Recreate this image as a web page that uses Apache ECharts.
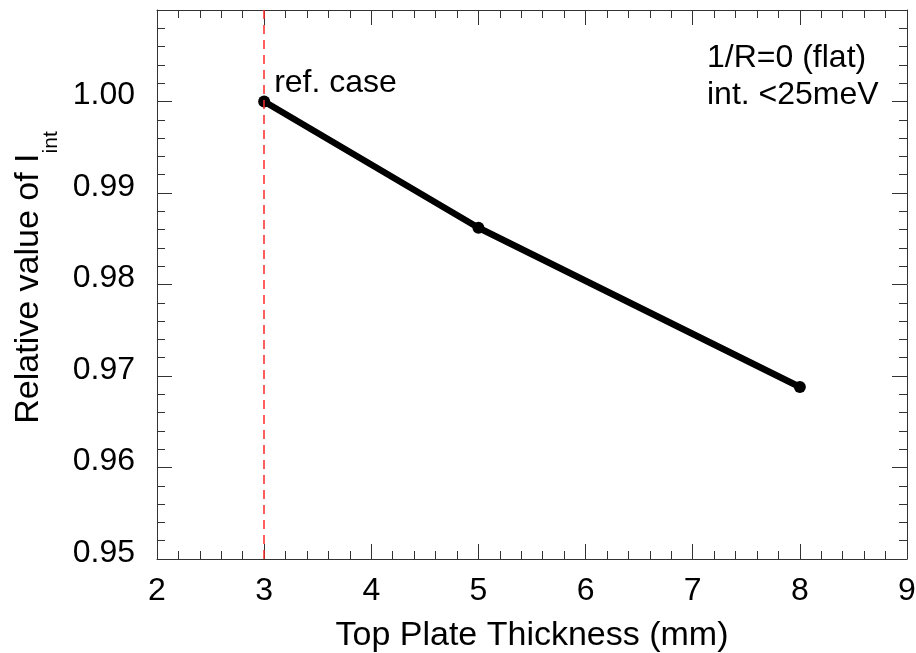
<!DOCTYPE html>
<html>
<head>
<meta charset="utf-8">
<script src="https://cdn.jsdelivr.net/npm/echarts@6/dist/echarts.min.js"></script>
<style>
  html, body { margin: 0; padding: 0; background: #fff; }
  #chart { width: 916px; height: 653px; }
</style>
</head>
<body>
<div id="chart"></div>
<script>
// Top plate thickness (mm) and the relative integrated intensity at each
const thickness = [3, 5, 8];
const relIntensity = [1.000, 0.9862, 0.9688];
const pointNotes = ['ref. case', '', ''];
const refThickness = 3;
const conditionNotes = ['1/R=0 (flat)', 'int. <25meV'];

const xRange = [2, 9];
const yRange = [0.95, 1.01];

const FONT = '"Liberation Sans", Arial, sans-serif';
const AXIS_COLOR = '#333';

const chart = echarts.init(document.getElementById('chart'), null, { renderer: 'canvas' });

// shared styling for a framed axis with inward major + minor ticks
function frameAxis(extra) {
  return Object.assign({
    type: 'value',
    axisLine: { show: true, onZero: false, lineStyle: { color: AXIS_COLOR, width: 1 } },
    axisTick: { show: true, inside: true, length: 15, lineStyle: { color: AXIS_COLOR, width: 1 } },
    minorTick: { show: true, splitNumber: 5, length: 8, lineStyle: { color: AXIS_COLOR, width: 1 } },
    splitLine: { show: false },
    minorSplitLine: { show: false }
  }, extra);
}

const seriesData = thickness.map((x, i) => {
  const item = { value: [x, relIntensity[i]] };
  if (pointNotes[i]) {
    item.label = {
      show: true,
      formatter: pointNotes[i],
      position: 'right',
      distance: 4,
      offset: [0, -18],
      color: '#000',
      fontFamily: FONT,
      fontSize: 32
    };
  }
  return item;
});

chart.setOption({
  animation: false,
  backgroundColor: '#fff',
  grid: { left: 157, right: 9, top: 10, bottom: 94, containLabel: false, outerBoundsMode: 'none' },
  xAxis: [
    frameAxis({
      position: 'bottom',
      min: xRange[0], max: xRange[1], interval: 1,
      axisLabel: { show: true, margin: 16, color: '#000', fontFamily: FONT, fontSize: 32 },
      name: 'Top Plate Thickness (mm)',
      nameLocation: 'middle',
      nameGap: 60,
      nameTextStyle: { color: '#000', fontFamily: FONT, fontSize: 34 }
    }),
    frameAxis({
      position: 'top',
      min: xRange[0], max: xRange[1], interval: 1,
      axisLabel: { show: false }
    })
  ],
  yAxis: [
    frameAxis({
      position: 'left',
      min: yRange[0], max: yRange[1], interval: 0.01,
      axisLabel: {
        show: true, margin: 22, color: '#000', fontFamily: FONT, fontSize: 32,
        verticalAlign: 'bottom',
        lineHeight: 12,
        showMaxLabel: false,
        formatter: v => (v > 1.005 ? '' : v.toFixed(2))
      },
      name: '{a|Relative value of I}{sub|int}',
      nameLocation: 'middle',
      nameRotate: 90,
      nameGap: 94,
      nameTextStyle: {
        color: '#000',
        fontFamily: FONT,
        rich: {
          a: { fontFamily: FONT, fontSize: 34, lineHeight: 34, verticalAlign: 'top', color: '#000', padding: [0, 0, 0, 14] },
          sub: { fontFamily: FONT, fontSize: 21, lineHeight: 50, verticalAlign: 'bottom', color: '#000' }
        }
      }
    }),
    frameAxis({
      position: 'right',
      min: yRange[0], max: yRange[1], interval: 0.01,
      axisLabel: { show: false }
    })
  ],
  graphic: [
    {
      type: 'text',
      left: 707,
      top: 40,
      style: {
        text: conditionNotes.join('\n'),
        fontFamily: FONT,
        fontSize: 32,
        lineHeight: 37,
        fill: '#000'
      }
    }
  ],
  series: [
    {
      type: 'line',
      xAxisIndex: 0,
      yAxisIndex: 0,
      data: seriesData,
      symbol: 'circle',
      symbolSize: 12,
      showSymbol: true,
      lineStyle: { color: '#000', width: 6.5 },
      itemStyle: { color: '#000' },
      z: 3,
      markLine: {
        silent: true,
        symbol: ['none', 'none'],
        label: { show: false },
        lineStyle: { color: '#ff2a2a', type: [9, 6], width: 1.5, opacity: 1 },
        emphasis: { disabled: true },
        data: [{ xAxis: refThickness }]
      }
    }
  ]
});
</script>
</body>
</html>
